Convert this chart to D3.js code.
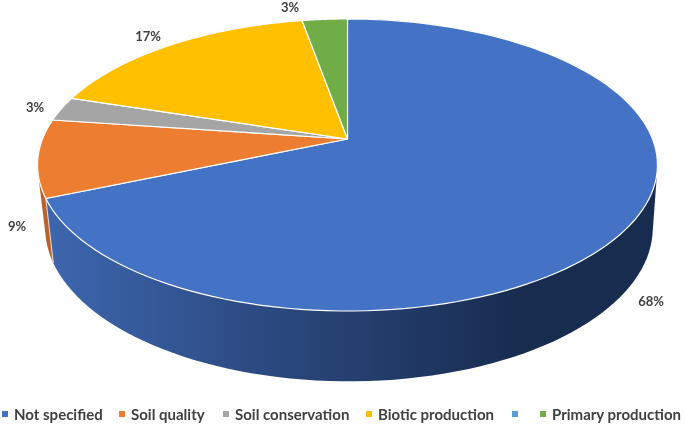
<!DOCTYPE html>
<html><head><meta charset="utf-8">
<script src="https://cdnjs.cloudflare.com/ajax/libs/d3/7.8.5/d3.min.js"></script>
<style>html,body{margin:0;background:#fff}svg{display:block;filter:blur(.3px)}text{font-family:Lato,"Open Sans",sans-serif;font-weight:700;fill:#404040}</style>
</head><body><svg id="c" width="685" height="425"></svg>
<script>
const categories = ["Not specified","Soil quality","Soil conservation","Biotic production","","Primary production"];
const values = [68.6,8.6,2.7,17.3,0,2.8];
const labels = ["68%","9%","3%","17%",null,"3%"];
const colors = ["#4472C4","#ED7D31","#A5A5A5","#FFC000","#5B9BD5","#70AD47"];
const wallColors = ["url(#blueWall)","#B9622A","#7c7c7c","#bf9000","#44749f","#548235"];

// layout of the tilted disc
const apex = {x:347.5,y:139}, R = 305, A = 141.4, C = -0.178;
const depth = {sx:0.98, sy:1.05, cx:349, cy:228, ty:165};
const labelPos = [[651,303],[17,228],[35,109],[148,38],null,[290,9]];
const legendX = [2,119,223,366,512,540];

const svg = d3.select("#c");
const defs = svg.append("defs");
const g = defs.append("linearGradient").attr("id","blueWall").attr("gradientUnits","userSpaceOnUse")
  .attr("x1",50).attr("x2",520).attr("y1",0).attr("y2",0);
g.append("stop").attr("offset",0).attr("stop-color","#3D66AE");
g.append("stop").attr("offset",.5).attr("stop-color","#2A477C");
g.append("stop").attr("offset",1).attr("stop-color","#182C50");

const pie = d3.pie().value(d=>d).sort(null)(values);
const angle = d3.scaleLinear().domain([0,2*Math.PI]).range([0,2*Math.PI]);
function topPt(t){
  const a = angle(t), u = Math.sin(a), v = -Math.cos(a), w = 1 + C*v;
  return [apex.x + R*u/w, apex.y + A*v/w];
}
function bottomPt(t){
  const p = topPt(t);
  return [depth.cx + depth.sx*(p[0]-apex.x), depth.cy + depth.sy*(p[1]-depth.ty)];
}
const arcPts = (f,a,b)=> d3.range(0,121).map(i=>f(a+(b-a)*i/120));
const line = d3.line();

// walls, back to front: each slice's wall is the hull of its top and bottom arcs
[...pie].reverse().forEach(d=>{
  if(d.endAngle===d.startAngle) return;
  const hull = d3.polygonHull(arcPts(topPt,d.startAngle,d.endAngle).concat(arcPts(bottomPt,d.startAngle,d.endAngle)));
  svg.append("path").attr("d",line(hull)+"Z").attr("fill",wallColors[d.index]);
});
// visible seam between the front wall slices
const seam = pie[0].endAngle;
svg.append("path").attr("d",line([topPt(seam),bottomPt(seam)])).attr("stroke","#fff").attr("stroke-opacity",.8).attr("stroke-width",1).attr("fill","none");

// top face
pie.forEach(d=>{
  if(d.endAngle===d.startAngle) return;
  const pts = [[apex.x,apex.y]].concat(arcPts(topPt,d.startAngle,d.endAngle));
  svg.append("path").attr("d",line(pts)+"Z").attr("fill",colors[d.index])
    .attr("stroke","#fff").attr("stroke-width",1.2).attr("stroke-linejoin","round");
});

labels.forEach((t,i)=>{
  if(!t) return;
  svg.append("text").attr("x",labelPos[i][0]).attr("y",labelPos[i][1]).attr("text-anchor","middle")
    .attr("dominant-baseline","middle").attr("font-size",13).text(t);
});

categories.forEach((c,i)=>{
  svg.append("rect").attr("x",legendX[i]).attr("y",411).attr("width",6).attr("height",6).attr("fill",colors[i]);
  if(c) svg.append("text").attr("x",legendX[i]+12).attr("y",416).attr("dominant-baseline","middle")
    .attr("font-size",15).text(c);
});
</script></body></html>
